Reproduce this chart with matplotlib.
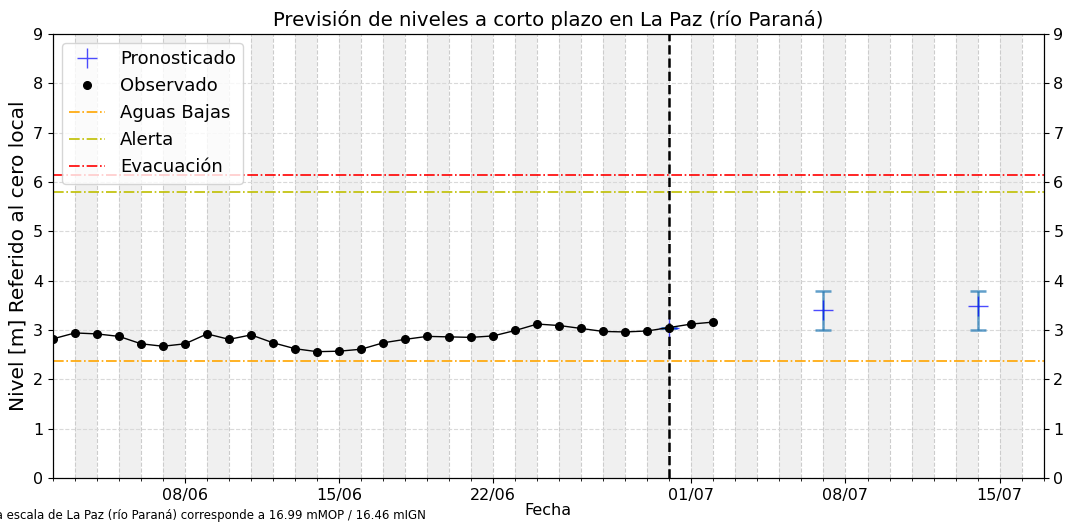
import matplotlib
matplotlib.use('Agg')
import matplotlib.pyplot as plt
import matplotlib.dates as mdates
import pandas as pd

# Observed daily levels (m)
obs_dates = pd.date_range('2024-06-02', '2024-07-02', freq='D')
obs_values = [2.82, 2.94, 2.92, 2.87, 2.72, 2.67, 2.72, 2.92, 2.81, 2.90,
              2.74, 2.62, 2.56, 2.57, 2.61, 2.74, 2.81, 2.87, 2.86, 2.85,
              2.88, 2.99, 3.12, 3.09, 3.03, 2.97, 2.96, 2.98, 3.05, 3.12, 3.16]

# Forecast
fc_dates = pd.to_datetime(['2024-06-30', '2024-07-07', '2024-07-14'])
fc_values = [3.05, 3.41, 3.49]
fc_low = [3.05, 3.0, 3.0]
fc_high = [3.05, 3.8, 3.8]

# Reference levels
aguas_bajas = 2.37
alerta = 5.8
evacuacion = 6.15

forecast_day = pd.Timestamp('2024-06-30')
x_start = pd.Timestamp('2024-06-02')
x_end = pd.Timestamp('2024-07-17')

fig, ax = plt.subplots(figsize=(10.66, 5.22), dpi=100)
fig.subplots_adjust(left=0.0497, right=0.979, top=0.935, bottom=0.0843)

# Alternating shaded days
d = x_start + pd.Timedelta(days=1)
while d < x_end:
    ax.axvspan(d, d + pd.Timedelta(days=1), color='0.94', zorder=0, lw=0)
    d += pd.Timedelta(days=2)

# Forecast with error bars
err_lo = [v - lo for v, lo in zip(fc_values, fc_low)]
err_hi = [hi - v for v, hi in zip(fc_values, fc_high)]
ax.errorbar(fc_dates, fc_values, yerr=[err_lo, err_hi], fmt='none',
            ecolor='tab:blue', elinewidth=1.8, capsize=6, capthick=1.8, alpha=0.7, zorder=3)
ax.plot(fc_dates, fc_values, linestyle='none', marker='+', markersize=15,
        color='blue', alpha=0.7, label='Pronosticado', zorder=4)

# Observed
ax.plot(obs_dates, obs_values, color='black', lw=1, zorder=5)
ax.plot(obs_dates, obs_values, linestyle='none', color='black', marker='o',
        markersize=5.5, label='Observado', zorder=5)

ax.axhline(aguas_bajas, color='orange', linestyle='-.', lw=1.2, label='Aguas Bajas')
ax.axhline(alerta, color='y', linestyle='-.', lw=1.2, label='Alerta')
ax.axhline(evacuacion, color='red', linestyle='-.', lw=1.2, label='Evacuación')

ax.axvline(forecast_day, color='black', linestyle='--', lw=1.8, zorder=6)

ax.set_xlim(x_start, x_end)
ax.set_ylim(0, 9)
ax.xaxis.set_major_locator(mdates.DayLocator(bymonthday=[1, 8, 15, 22]))
ax.xaxis.set_major_formatter(mdates.DateFormatter('%d/%m'))
ax.xaxis.set_minor_locator(mdates.DayLocator())
ax.tick_params(axis='both', labelsize=11.5)
ax.grid(which='both', axis='x', linestyle='--', color='0.8', lw=0.8)
ax.grid(which='major', axis='y', linestyle='--', color='0.85', lw=0.8)
ax.set_axisbelow(True)

ax.set_title('Previsión de niveles a corto plazo en La Paz (río Paraná)', fontsize=14.2)
ax.set_xlabel('Fecha', fontsize=11.5, labelpad=0)
ax.set_ylabel('Nivel [m] Referido al cero local', fontsize=14.5)

ax2 = ax.twinx()
ax2.set_ylim(0, 9)
ax2.tick_params(axis='y', labelsize=11.5)

ax.legend(loc='upper left', fontsize=13, framealpha=0.8)

fig.text(426 / 1066, 0.013,
         'El cero de la escala de La Paz (río Paraná) corresponde a 16.99 mMOP / 16.46 mIGN',
         ha='right', va='center', fontsize=8.5)

fig.savefig('out.png', dpi=100)
